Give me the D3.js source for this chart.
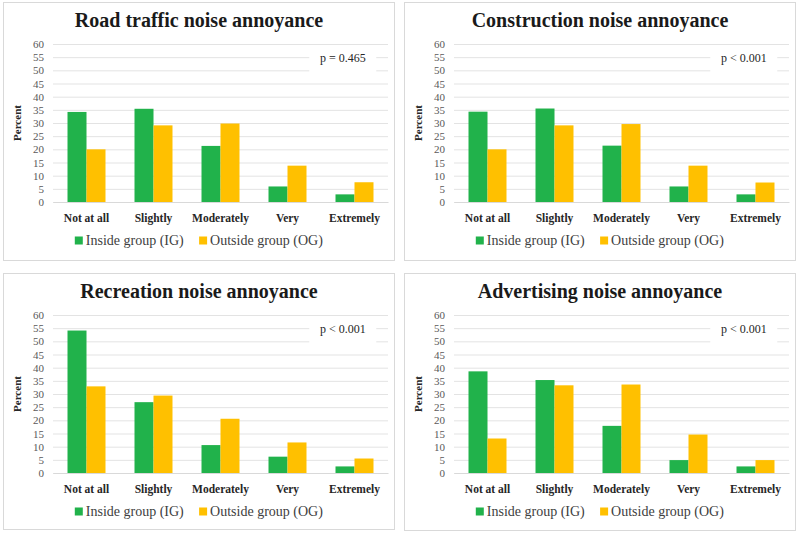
<!DOCTYPE html>
<html>
<head>
<meta charset="utf-8">
<script src="https://cdn.jsdelivr.net/npm/d3@7"></script>
<style>
  html, body { margin: 0; padding: 0; background: #fff; }
  svg { display: block; }
</style>
</head>
<body>
<svg id="chart" width="800" height="533"></svg>
<script>
// ---- data ----
const categories = ["Not at all", "Slightly", "Moderately", "Very", "Extremely"];
const seriesNames = ["Inside group (IG)", "Outside group (OG)"];
const yTicks = [0, 5, 10, 15, 20, 25, 30, 35, 40, 45, 50, 55, 60];

const titles = ["Road traffic noise annoyance", "Construction noise annoyance",
                "Recreation noise annoyance", "Advertising noise annoyance"];
const pValues = ["p = 0.465", "p < 0.001", "p < 0.001", "p < 0.001"];

const roadIG = [34.2, 35.4, 21.3, 5.9, 2.9];
const roadOG = [20.0, 29.1, 29.8, 13.8, 7.5];
const constructionIG = [34.3, 35.5, 21.4, 5.9, 2.9];
const constructionOG = [20.0, 29.1, 29.6, 13.8, 7.4];
const recreationIG = [54.1, 26.9, 10.6, 6.2, 2.5];
const recreationOG = [32.9, 29.4, 20.6, 11.6, 5.5];
const advertisingIG = [38.6, 35.3, 17.9, 4.9, 2.5];
const advertisingOG = [13.1, 33.3, 33.6, 14.6, 4.9];

const panelValues = [
  [roadIG, roadOG],
  [constructionIG, constructionOG],
  [recreationIG, recreationOG],
  [advertisingIG, advertisingOG]
];

// ---- layout ----
const colors = ["#21b24b", "#ffc000"];
const panels = [
  {x: 3, y: 2, w: 392, h: 259},
  {x: 404, y: 2, w: 392, h: 259},
  {x: 3, y: 273, w: 392, h: 257},
  {x: 404, y: 273, w: 392, h: 258}
];
const plotL = 50, plotR = 385, plotT = 42, plotB = 200;
const serif = "'Liberation Serif', 'Times New Roman', serif";

const svg = d3.select("#chart");

panels.forEach((p, i) => {
  const g = svg.append("g").attr("transform", `translate(${p.x},${p.y})`);
  g.append("rect").attr("x", 0.5).attr("y", 0.5)
    .attr("width", p.w - 1).attr("height", p.h - 1)
    .attr("fill", "#fff").attr("stroke", "#d9d9d9").attr("stroke-width", 1);

  const y = d3.scaleLinear().domain([0, 60]).range([plotB, plotT]);
  const x0 = d3.scaleBand().domain(categories).range([plotL, plotR])
    .paddingInner(0.433).paddingOuter(0.2165);
  const x1 = d3.scaleBand().domain(seriesNames).range([0, x0.bandwidth()]).padding(0);

  // title
  g.append("text").attr("x", p.w / 2).attr("y", 25)
    .attr("text-anchor", "middle")
    .style("font-family", serif).style("font-weight", "bold")
    .style("font-size", "20px").attr("fill", "#1a1a1a")
    .text(titles[i]);

  // grid
  const yAxis = d3.axisLeft(y).tickValues(yTicks).tickSize(-(plotR - plotL)).tickPadding(9);
  const ga = g.append("g").attr("transform", `translate(${plotL},0)`).call(yAxis);
  ga.select(".domain").remove();
  ga.selectAll(".tick line").attr("stroke", "#e3e3e3").attr("stroke-width", 1);
  ga.selectAll(".tick text").style("font-family", serif).style("font-size", "11px")
    .attr("fill", "#595959");

  // p-value box
  const bx = plotL + (plotR - plotL) * 0.765;
  const bw = (plotR - plotL) * 0.2;
  g.append("rect").attr("x", bx).attr("y", y(57.5))
    .attr("width", bw).attr("height", y(47.5) - y(57.5)).attr("fill", "#fff");
  g.append("text").attr("x", bx + bw / 2).attr("y", y(53.2))
    .attr("text-anchor", "middle")
    .style("font-family", serif).style("font-size", "12px").attr("fill", "#262626")
    .text(pValues[i]);

  // bars
  const vals = panelValues[i];
  const cg = g.append("g").selectAll("g").data(categories).join("g")
    .attr("transform", d => `translate(${x0(d)},0)`);
  cg.selectAll("rect").data((d, ci) => seriesNames.map((s, si) => ({s, v: vals[si][ci], si})))
    .join("rect")
    .attr("x", d => x1(d.s)).attr("width", x1.bandwidth())
    .attr("y", d => y(d.v)).attr("height", d => y(0) - y(d.v))
    .attr("fill", d => colors[d.si]);

  // x axis
  const xAxis = d3.axisBottom(x0).tickSize(0).tickPadding(12);
  const gx = g.append("g").attr("transform", `translate(0,${plotB})`).call(xAxis);
  gx.select(".domain").attr("stroke", "#d9d9d9");
  gx.selectAll(".tick text").style("font-family", serif).style("font-weight", "bold")
    .style("font-size", "11.5px").attr("fill", "#262626");

  // y label
  g.append("text").attr("transform", `translate(18,${(plotT + plotB) / 2}) rotate(-90)`)
    .attr("text-anchor", "middle")
    .style("font-family", serif).style("font-weight", "bold").style("font-size", "11px")
    .attr("fill", "#262626").text("Percent");

  // legend
  const lg = g.append("g").attr("transform", `translate(0,242.5)`);
  const items = lg.selectAll("g").data(seriesNames).join("g");
  items.append("rect").attr("width", 8).attr("height", 8).attr("y", -8)
    .attr("fill", (d, k) => colors[k]);
  items.append("text").attr("x", 11).attr("y", 0)
    .style("font-family", serif).style("font-size", "14px").attr("fill", "#404040")
    .text(d => d);
  let widths = [];
  items.each(function() { widths.push(this.getBBox().width); });
  const gap = 15;
  const total = widths[0] + widths[1] + gap;
  let cx = p.w / 2 - total / 2;
  items.attr("transform", (d, k) => {
    const t = `translate(${cx},0)`;
    cx += widths[k] + gap;
    return t;
  });
});
</script>
</body>
</html>
